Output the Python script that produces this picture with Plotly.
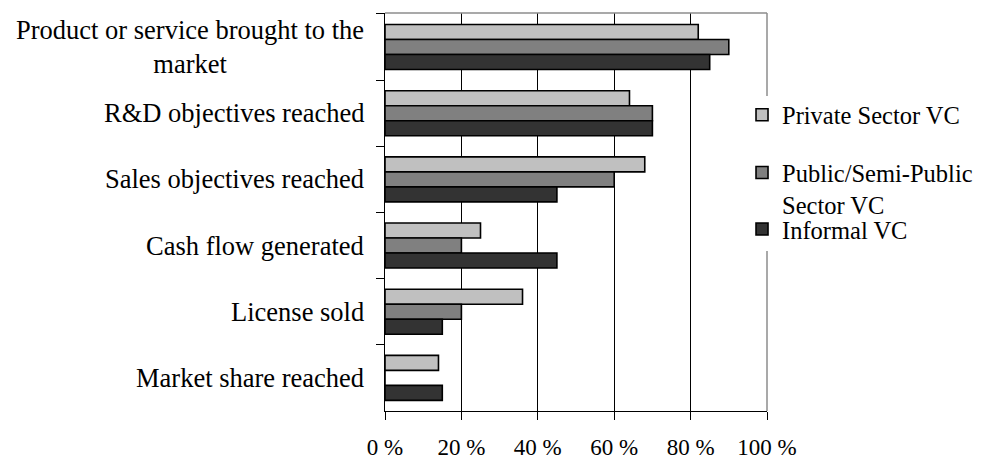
import plotly.graph_objects as go

categories = [
    "Product or service brought to the<br>market",
    "R&D objectives reached",
    "Sales objectives reached",
    "Cash flow generated",
    "License sold",
    "Market share reached",
]
private_vc = [82, 64, 68, 25, 36, 14]
public_vc = [90, 70, 60, 20, 20, 0]
informal_vc = [85, 70, 45, 45, 15, 15]
series_names = ["Private Sector VC", "Public/Semi-Public<br>Sector VC", "Informal VC"]
series_colors = ["#c0c0c0", "#808080", "#333333"]
x_ticks = [0, 20, 40, 60, 80, 100]
x_tick_labels = ["0 %", "20 %", "40 %", "60 %", "80 %", "100 %"]

FONT = "Liberation Serif"
legend_ids = ["legend", "legend2", "legend3"]
legend_y = [0.744, 0.559, 0.457]
legend_valign = ["middle", "top", "middle"]

fig = go.Figure()
for name, vals, col, lid in zip(series_names, [private_vc, public_vc, informal_vc], series_colors, legend_ids):
    fig.add_trace(go.Bar(
        y=categories, x=vals, name=name, orientation="h",
        marker=dict(color=col, line=dict(color="black", width=1.6)),
        legend=lid,
    ))

for c in categories:
    fig.add_annotation(
        x=0, xref="paper", y=c, yref="y", text=c, showarrow=False,
        xanchor="right", xshift=-19, align="center",
        font=dict(family=FONT, size=26.5, color="black"),
    )

# plot-area frame (top and right, gray; right side interrupted by the legend)
frame = dict(color="#8c8c8c", width=1.5)
fig.add_shape(type="line", xref="paper", yref="paper", x0=0, x1=1, y0=1, y1=1, line=frame)
fig.add_shape(type="line", xref="paper", yref="paper", x0=1, x1=1, y0=0.7915, y1=1, line=frame)
fig.add_shape(type="line", xref="paper", yref="paper", x0=1, x1=1, y0=0, y1=0.402, line=frame)

def legend_cfg(y, valign):
    return dict(
        x=0.9346, xanchor="left", y=y, yanchor="middle",
        bgcolor="rgba(0,0,0,0)", font=dict(family=FONT, size=24.5, color="black"),
        valign=valign, itemclick=False, itemdoubleclick=False,
    )

fig.update_layout(
    width=982, height=462,
    margin=dict(l=377, r=223, t=5, b=59, autoexpand=False),
    paper_bgcolor="white", plot_bgcolor="white",
    barmode="group", bargap=0.32, bargroupgap=0,
    font=dict(family=FONT, size=23, color="black"),
    showlegend=True,
    legend=legend_cfg(legend_y[0], legend_valign[0]),
    legend2=legend_cfg(legend_y[1], legend_valign[1]),
    legend3=legend_cfg(legend_y[2], legend_valign[2]),
    xaxis=dict(
        range=[0, 100], tickvals=x_ticks, ticktext=x_tick_labels,
        showgrid=True, gridcolor="black", gridwidth=1,
        showline=True, linecolor="black", linewidth=1,
        ticks="outside", ticklen=8, tickcolor="black",
        zeroline=False, automargin=False, ticklabelstandoff=7,
        tickfont=dict(family=FONT, size=23, color="black"),
    ),
    yaxis=dict(
        autorange="reversed", showticklabels=False,
        showline=True, linecolor="black", linewidth=1,
        ticks="outside", ticklen=8, tickcolor="black", tickson="boundaries",
        showgrid=False, automargin=False,
    ),
)

fig.write_html("out.html")
